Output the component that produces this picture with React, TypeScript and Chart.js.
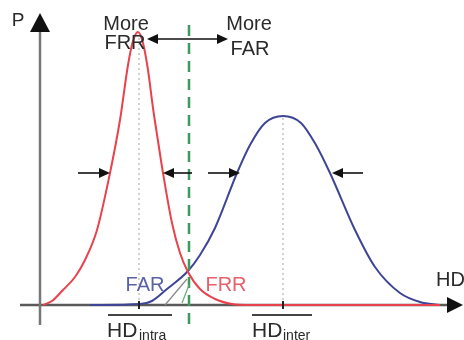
import React, { useEffect, useRef } from "react";
import { Chart, registerables } from "chart.js";

Chart.register(...registerables);

// Hamming-distance axis (a.u.) and probability density (a.u.)
const intraHD = [43, 52, 63, 75, 85, 97, 110, 120, 128, 133, 138, 143, 148, 153, 158, 163, 172, 180, 188, 200, 215, 232, 250, 440];
const intraP = [0, 4, 15, 28, 45, 75, 132, 185, 240, 264, 273, 262, 235, 197, 164, 132, 82, 52, 33, 16, 6, 1, 0, 0];

const interHD = [90, 140, 152, 167, 188, 200, 215, 237, 250, 265, 283, 301, 316, 330, 355, 375, 400, 420, 440];
const interP = [0, 1, 4, 16, 34, 50, 77, 132, 160, 182, 189, 182, 160, 132, 75, 38, 12, 3, 0];

const intraMean = 138;
const interMean = 283;
const thresholdHD = 189;

// width markers: [from, to] at level widthLevel
const widthArrows = [
  [78, 110],
  [192, 163],
  [208, 240],
  [363, 332],
];
const widthLevel = 132;
const shiftArrow = [147, 228];
const shiftLevel = 266;

const FONT = "'Liberation Sans', Arial, sans-serif";

const decorations = {
  id: "decorations",
  afterDatasetsDraw(chart: any) {
    const ctx = chart.ctx as CanvasRenderingContext2D;
    const xs = chart.scales.x;
    const ys = chart.scales.y;
    const X = (v: number) => xs.getPixelForValue(v);
    const Y = (v: number) => ys.getPixelForValue(v);

    ctx.save();

    // mean tick marks
    ctx.strokeStyle = "#222";
    ctx.lineWidth = 2;
    [intraMean + 1, interMean].forEach((m) => {
      ctx.beginPath();
      ctx.moveTo(X(m), Y(4));
      ctx.lineTo(X(m), Y(-4));
      ctx.stroke();
    });

    // hatch line in overlap
    ctx.strokeStyle = "#888";
    ctx.lineWidth = 1.2;
    ctx.beginPath();
    ctx.moveTo(X(165), Y(0));
    ctx.lineTo(X(187), Y(26));
    ctx.stroke();
    ctx.strokeStyle = "#6aa878";
    ctx.beginPath();
    ctx.moveTo(X(182), Y(2));
    ctx.lineTo(X(189), Y(20));
    ctx.stroke();

    // arrows
    const arrow = (x1: number, x2: number, yv: number, both = false) => {
      const px1 = X(x1), px2 = X(x2), py = Y(yv);
      const dir = Math.sign(px2 - px1);
      const len = 11, hw = 5;
      ctx.strokeStyle = "#111";
      ctx.fillStyle = "#111";
      ctx.lineWidth = 1.6;
      ctx.beginPath();
      ctx.moveTo(px1 + (both ? dir * len * 0.8 : 0), py);
      ctx.lineTo(px2 - dir * len * 0.8, py);
      ctx.stroke();
      const head = (tip: number, d: number) => {
        ctx.beginPath();
        ctx.moveTo(tip, py);
        ctx.lineTo(tip - d * len, py - hw);
        ctx.lineTo(tip - d * len, py + hw);
        ctx.closePath();
        ctx.fill();
      };
      head(px2, dir);
      if (both) head(px1, -dir);
    };
    widthArrows.forEach(([a, b]) => arrow(a, b, widthLevel));
    arrow(shiftArrow[0], shiftArrow[1], shiftLevel, true);

    // text
    const text = (s: string, hd: number, p: number, size: number, color: string, align: CanvasTextAlign = "center", base: CanvasTextBaseline = "middle") => {
      ctx.font = `${size}px ${FONT}`;
      ctx.fillStyle = color;
      ctx.textAlign = align;
      ctx.textBaseline = base;
      ctx.fillText(s, X(hd), Y(p));
    };
    const dark = "#2a2a2a";
    text("P", 18, 284, 19, dark);
    text("More", 126, 281, 20, dark);
    text("FRR", 125, 262, 20, dark);
    text("More", 249, 281, 20, dark);
    text("FAR", 250, 256, 20, dark);
    text("FAR", 145, 20, 20, "#5a62a6");
    text("FRR", 226, 20, 20, "#e8606a");
    text("HD", 436, 25, 20, dark, "left");
    text("HD", 107, -32, 21, dark, "left", "alphabetic");
    text("intra", 139, -35, 14, dark, "left", "alphabetic");
    text("HD", 252, -32, 21, dark, "left", "alphabetic");
    text("inter", 283, -35, 14, dark, "left", "alphabetic");

    // overlines
    ctx.strokeStyle = "#444";
    ctx.lineWidth = 2;
    [[108, 172], [252, 312]].forEach(([a, b]) => {
      ctx.beginPath();
      ctx.moveTo(X(a), Y(-10));
      ctx.lineTo(X(b), Y(-10));
      ctx.stroke();
    });

    ctx.restore();
  },
  beforeDatasetsDraw(chart: any) {
    const ctx = chart.ctx as CanvasRenderingContext2D;
    const xs = chart.scales.x;
    const ys = chart.scales.y;
    const X = (v: number) => xs.getPixelForValue(v);
    const Y = (v: number) => ys.getPixelForValue(v);
    ctx.save();
    // mean dotted lines
    ctx.strokeStyle = "#c4c4c4";
    ctx.lineWidth = 1.5;
    ctx.setLineDash([2, 3]);
    ctx.beginPath();
    ctx.moveTo(X(intraMean + 1), Y(0));
    ctx.lineTo(X(intraMean + 1), Y(268));
    ctx.moveTo(X(interMean), Y(0));
    ctx.lineTo(X(interMean), Y(188));
    ctx.stroke();
    ctx.setLineDash([]);

    // axes
    ctx.strokeStyle = "#5a5a5a";
    ctx.lineWidth = 2.5;
    ctx.beginPath();
    ctx.moveTo(X(20), Y(0));
    ctx.lineTo(X(450), Y(0));
    ctx.stroke();
    ctx.strokeStyle = "#777";
    ctx.beginPath();
    ctx.moveTo(X(40), Y(-20));
    ctx.lineTo(X(40), Y(276));
    ctx.stroke();
    ctx.fillStyle = "#111";
    ctx.beginPath();
    ctx.moveTo(X(463), Y(0));
    ctx.lineTo(X(447), Y(8));
    ctx.lineTo(X(447), Y(-8));
    ctx.closePath();
    ctx.fill();
    ctx.beginPath();
    ctx.moveTo(X(40), Y(292));
    ctx.lineTo(X(30), Y(273));
    ctx.lineTo(X(50), Y(273));
    ctx.closePath();
    ctx.fill();
    ctx.restore();
  },
};

export default function App() {
  const ref = useRef<HTMLCanvasElement | null>(null);
  useEffect(() => {
    if (!ref.current) return;
    const chart = new Chart(ref.current, {
      type: "scatter",
      data: {
        datasets: [
          {
            label: "threshold",
            data: [
              { x: thresholdHD, y: 280 },
              { x: thresholdHD, y: -20 },
            ],
            showLine: true,
            borderColor: "#3d9a5e",
            borderWidth: 2.5,
            borderDash: [11, 7],
            pointRadius: 0,
            order: 1,
          },
          {
            label: "intra",
            data: intraHD.map((x, i) => ({ x, y: intraP[i] })),
            showLine: true,
            borderColor: "#e8424c",
            borderWidth: 2,
            pointRadius: 0,
            cubicInterpolationMode: "monotone",
            order: 2,
          },
          {
            label: "inter",
            data: interHD.map((x, i) => ({ x, y: interP[i] })),
            showLine: true,
            borderColor: "#3f4596",
            borderWidth: 2,
            pointRadius: 0,
            cubicInterpolationMode: "monotone",
            order: 3,
          },
        ],
      },
      options: {
        animation: false,
        responsive: false,
        maintainAspectRatio: false,
        layout: { padding: 0, autoPadding: false },
        plugins: { legend: { display: false }, tooltip: { enabled: false } },
        scales: {
          x: { type: "linear", min: 0, max: 464, display: false },
          y: { type: "linear", min: -35, max: 305, display: false },
        },
      },
      plugins: [decorations],
    });
    return () => chart.destroy();
  }, []);
  return (
    <div style={{ position: "absolute", left: 0, top: 0, width: 464, height: 340, background: "#fff" }}>
      <canvas ref={ref} width={464} height={340} />
    </div>
  );
}
